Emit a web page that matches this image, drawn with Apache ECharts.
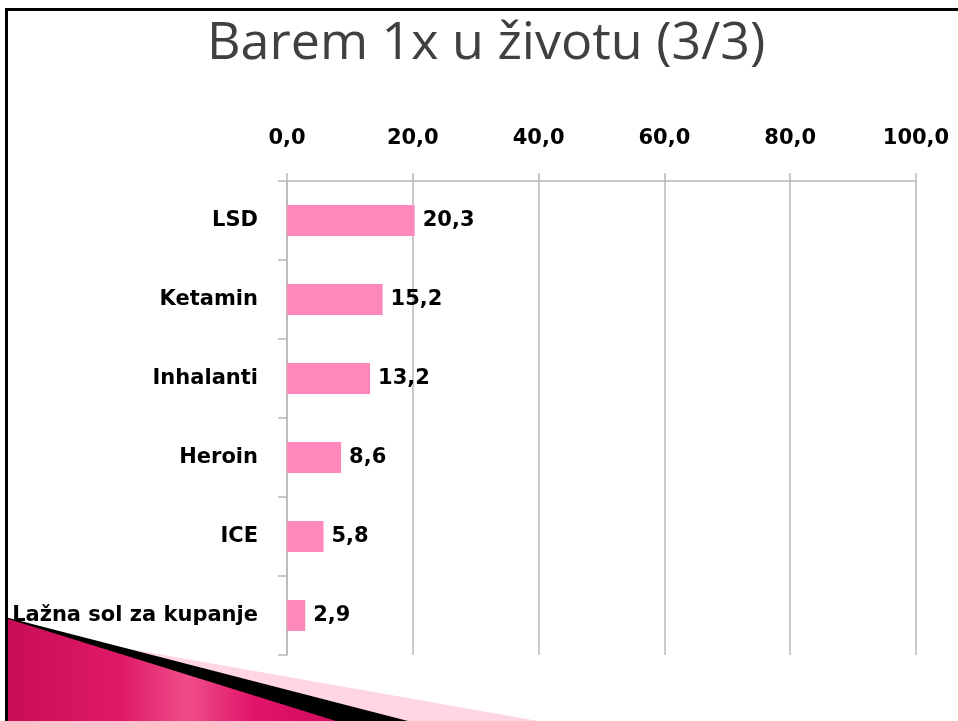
<!DOCTYPE html>
<html>
<head>
<meta charset="utf-8">
<script src="https://cdn.jsdelivr.net/npm/echarts@6/dist/echarts.min.js"></script>
<style>
  html, body { margin: 0; padding: 0; background: #fff; }
  #chart { width: 958px; height: 721px; }
</style>
</head>
<body>
<div id="chart"></div>
<script>
// podaci
var titleText = 'Barem 1x u životu (3/3)';
var categories = ['LSD', 'Ketamin', 'Inhalanti', 'Heroin', 'ICE', 'Lažna sol za kupanje'];
var values = [20.3, 15.2, 13.2, 8.6, 5.8, 2.9];
var axisMin = 0;
var axisMax = 100;
var axisStep = 20;

function fmt(v) {
  return Number(v).toFixed(1).replace('.', ',');
}

var chart = echarts.init(document.getElementById('chart'));

var option = {
  backgroundColor: '#fff',
  animation: false,
  title: {
    text: titleText,
    left: 202,
    top: 13,
    textStyle: {
      fontFamily: '"Open Sans", sans-serif',
      fontSize: 52,
      fontWeight: 'normal',
      color: '#404040'
    }
  },
  grid: {
    left: 287,
    right: 42,
    top: 181,
    height: 474,
    containLabel: false
  },
  xAxis: {
    type: 'value',
    position: 'top',
    min: axisMin,
    max: axisMax,
    interval: axisStep,
    axisLine: { show: true, lineStyle: { color: '#b8b8b8', width: 1.5 } },
    axisTick: { show: true, length: 8, lineStyle: { color: '#b8b8b8', width: 1.5 } },
    splitLine: { show: true, lineStyle: { color: '#b8b8b8', width: 1.5 } },
    axisLabel: {
      margin: 32,
      formatter: fmt,
      color: '#000',
      fontFamily: '"DejaVu Sans", sans-serif',
      fontWeight: 'bold',
      fontSize: 21
    }
  },
  yAxis: {
    type: 'category',
    inverse: true,
    data: categories,
    axisLine: { show: true, lineStyle: { color: '#b8b8b8', width: 1.5 } },
    axisTick: { show: true, length: 9, lineStyle: { color: '#b8b8b8', width: 1.5 } },
    axisLabel: {
      margin: 29,
      color: '#000',
      fontFamily: '"DejaVu Sans", sans-serif',
      fontWeight: 'bold',
      fontSize: 21
    }
  },
  series: [{
    type: 'bar',
    data: values,
    barWidth: 31,
    itemStyle: { color: '#ff88bb' },
    label: {
      show: true,
      position: 'right',
      distance: 8,
      formatter: function (p) { return fmt(p.value); },
      color: '#000',
      fontFamily: '"DejaVu Sans", sans-serif',
      fontWeight: 'bold',
      fontSize: 21
    }
  }],
  // okvir slajda i ukras dolje lijevo
  graphic: [
    { type: 'rect', shape: { x: 5, y: 8, width: 953, height: 3 }, style: { fill: '#000' }, z: 10 },
    { type: 'rect', shape: { x: 5, y: 8, width: 3, height: 713 }, style: { fill: '#000' }, z: 10 },
    { type: 'polygon', shape: { points: [[5, 627], [538, 721], [5, 721]] }, style: { fill: '#ffd6e2' }, z: 5 },
    { type: 'polygon', shape: { points: [[5, 617], [408, 721], [5, 721]] }, style: { fill: '#000' }, z: 6 },
    {
      type: 'polygon',
      shape: { points: [[5, 618], [336, 721], [5, 721]] },
      style: {
        fill: new echarts.graphic.LinearGradient(0, 0, 1, 0, [
          { offset: 0, color: '#c80c55' },
          { offset: 0.35, color: '#e01a68' },
          { offset: 0.55, color: '#f04d8a' },
          { offset: 0.75, color: '#e0156a' },
          { offset: 1, color: '#d40c5c' }
        ])
      },
      z: 7
    }
  ]
};

chart.setOption(option);
</script>
</body>
</html>
